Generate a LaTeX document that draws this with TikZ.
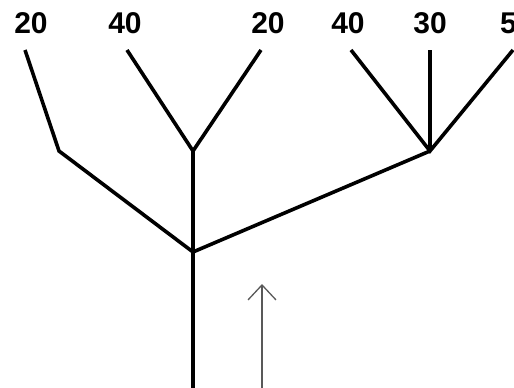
\documentclass[tikz,border=0pt]{standalone}
\usepackage{fontspec}
\setmainfont{Liberation Sans}
\usetikzlibrary{arrows.meta}
\begin{document}
\begin{tikzpicture}[x=1pt,y=-1pt,
  branch/.style={line width=3.6pt,line cap=butt,line join=miter},
  lbl/.style={font=\bfseries\fontsize{30}{30}\selectfont,inner sep=0pt,anchor=center},
  pointer/.style={line width=1.3pt,draw=black!65,-{Straight Barb[length=15pt,width=28pt,line width=1.3pt]}}]
\useasboundingbox (0,0) rectangle (514,388);
% labels
\node[lbl] (l1) at (31,23) {20};
\node[lbl] (l2) at (125,23) {40};
\node[lbl] (l3) at (268,23) {20};
\node[lbl] (l4) at (348,23) {40};
\node[lbl] (l5) at (430,23) {30};
\node[lbl,anchor=west] (l6) at (500,23) {50};
% leaf tops
\coordinate (t1) at (25,50);
\coordinate (t2) at (127,50);
\coordinate (t3) at (261,50);
\coordinate (t4) at (351,50);
\coordinate (t5) at (430,50);
\coordinate (t6) at (513,50);
% junctions
\coordinate (k1) at (59,151);
\coordinate (j1) at (193,151);
\coordinate (j2) at (430,151);
\coordinate (r) at (193,252);
\coordinate (base) at (193,388);
% arrow
\coordinate (abot) at (262,388);
\coordinate (atop) at (262,284);
% branches
\draw[branch] (t1) -- (k1) -- (r);
\draw[branch] (t2) -- (j1) -- (t3);
\draw[branch] (j1) -- (r);
\draw[branch] (t4) -- (j2) -- (t6);
\draw[branch] (t5) -- (j2);
\draw[branch] (j2) -- (r);
\draw[branch] (r) -- (base);
\draw[pointer] (abot) -- (atop);
\end{tikzpicture}
\end{document}
